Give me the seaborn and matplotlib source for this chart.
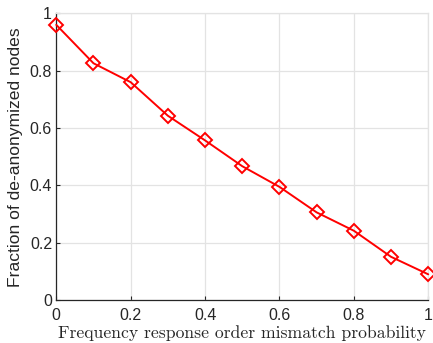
import matplotlib
matplotlib.use("Agg")
import matplotlib.pyplot as plt
import seaborn as sns
import pandas as pd
from matplotlib.ticker import FormatStrFormatter

mismatch_prob = [0.0, 0.1, 0.2, 0.3, 0.4, 0.5, 0.6, 0.7, 0.8, 0.9, 1.0]
fraction_deanon = [0.960, 0.826, 0.760, 0.643, 0.557, 0.467, 0.395, 0.306, 0.242, 0.151, 0.090]
x_ticks = [0, 0.2, 0.4, 0.6, 0.8, 1]
y_ticks = [0, 0.2, 0.4, 0.6, 0.8, 1]

df = pd.DataFrame({"p": mismatch_prob, "f": fraction_deanon})

sns.set_theme(style="white")
plt.rcParams['font.family'] = ['Liberation Sans', 'DejaVu Sans']

fig = plt.figure(figsize=(4.33, 3.43), dpi=100)
ax = fig.add_axes([0.130, 0.125, 0.859, 0.836])

sns.lineplot(data=df, x="p", y="f", ax=ax, color="red", linewidth=1.4,
             marker="D", markersize=7.5, markerfacecolor="none",
             markeredgecolor="red", markeredgewidth=1.4, clip_on=False, zorder=3)

ax.set_xlim(0, 1)
ax.set_ylim(0, 1)
ax.set_xticks(x_ticks)
ax.set_yticks(y_ticks)
ax.xaxis.set_major_formatter(FormatStrFormatter('%g'))
ax.yaxis.set_major_formatter(FormatStrFormatter('%g'))
ax.grid(True, color="#e3e3e3", linewidth=0.9)
ax.set_axisbelow(True)
for s in ["top", "right"]:
    ax.spines[s].set_color("#e3e3e3")
    ax.spines[s].set_linewidth(0.9)
for s in ["left", "bottom"]:
    ax.spines[s].set_color("#262626")
    ax.spines[s].set_linewidth(0.9)
ax.tick_params(axis="both", direction="in", length=3, width=0.8, color="#262626",
               labelsize=11.5, labelcolor="#262626", bottom=True, left=True)
ax.tick_params(axis="x", pad=6)
ax.tick_params(axis="y", pad=3)

ax.set_xlabel("Frequency response order mismatch probability",
              family=["cmr10", "DejaVu Serif"], fontsize=12.7, color="#262626", labelpad=1)
ax.set_ylabel("Fraction of de-anonymized nodes", fontsize=12.6, color="#262626", labelpad=5)

fig.savefig("out.png", dpi=100)
